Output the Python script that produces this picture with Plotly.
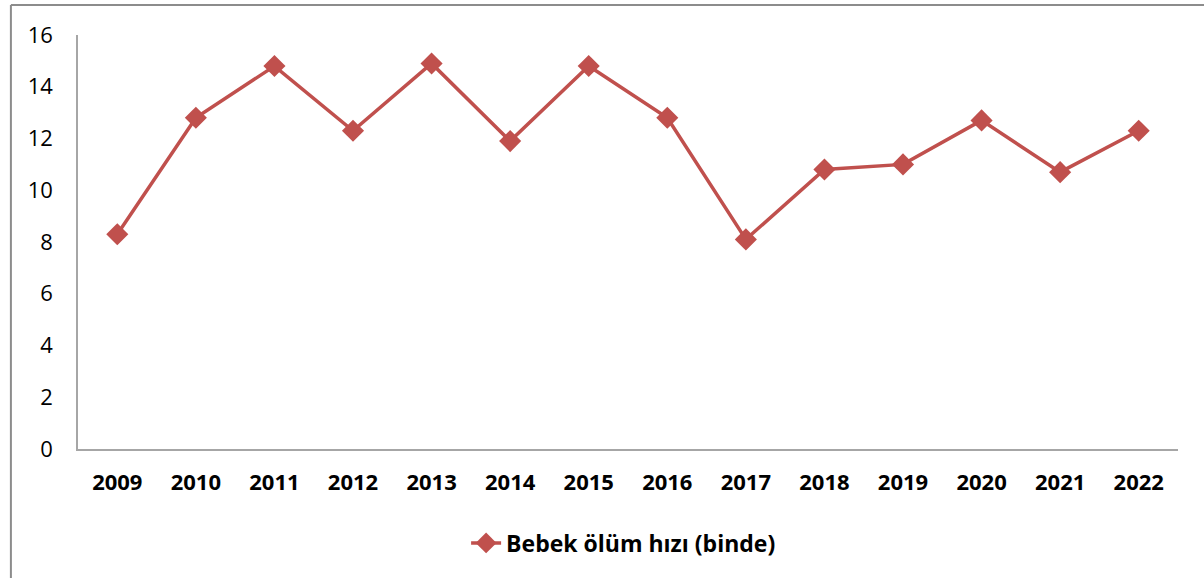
import plotly.graph_objects as go

years = ["2009", "2010", "2011", "2012", "2013", "2014", "2015",
         "2016", "2017", "2018", "2019", "2020", "2021", "2022"]
values = [8.3, 12.8, 14.8, 12.3, 14.9, 11.9, 14.8, 12.8, 8.1, 10.8, 11.0, 12.7, 10.7, 12.3]
series_name = "Bebek ölüm hızı (binde)"
y_ticks = [0, 2, 4, 6, 8, 10, 12, 14, 16]

RED = "#C0504D"
FONT = "Open Sans, sans-serif"

fig = go.Figure()
fig.add_trace(go.Scatter(
    x=years, y=values, name=series_name, mode="lines+markers",
    line=dict(color=RED, width=3.5),
    marker=dict(symbol="diamond", size=17, color=RED),
))

fig.update_layout(
    width=1204, height=578,
    margin=dict(l=78, r=26, t=35, b=129),
    paper_bgcolor="white", plot_bgcolor="white",
    showlegend=True,
    legend=dict(orientation="h", x=0.496, xanchor="center", y=-0.227, yanchor="middle",
                font=dict(family=FONT, size=23, color="#000000", weight="bold")),
    xaxis=dict(type="category", range=[-0.5, len(years) - 0.5], automargin=False,
               showline=True, linecolor="#a6a6a6", linewidth=1.5,
               showgrid=False, ticks="",
               tickfont=dict(family=FONT, size=22, color="#000000", weight="bold"),
               ticklabelstandoff=13),
    yaxis=dict(range=[0, 16], tickvals=y_ticks, automargin=False,
               showline=True, linecolor="#a6a6a6", linewidth=1.5,
               showgrid=False, zeroline=False, ticks="",
               tickfont=dict(family=FONT, size=22, color="#000000"), ticklabelstandoff=19),
    shapes=[
        dict(type="line", xref="paper", yref="paper", x0=-0.061, x1=-0.061, y0=-0.5, y1=1.0725,
             line=dict(color="#8c8c8c", width=2)),
        dict(type="line", xref="paper", yref="paper", x0=-0.061, x1=1.1, y0=1.0725, y1=1.0725,
             line=dict(color="#8c8c8c", width=2)),
    ],
)

fig.write_html("out.html", config={"displayModeBar": False},
               post_script="document.body.style.margin='0';")
